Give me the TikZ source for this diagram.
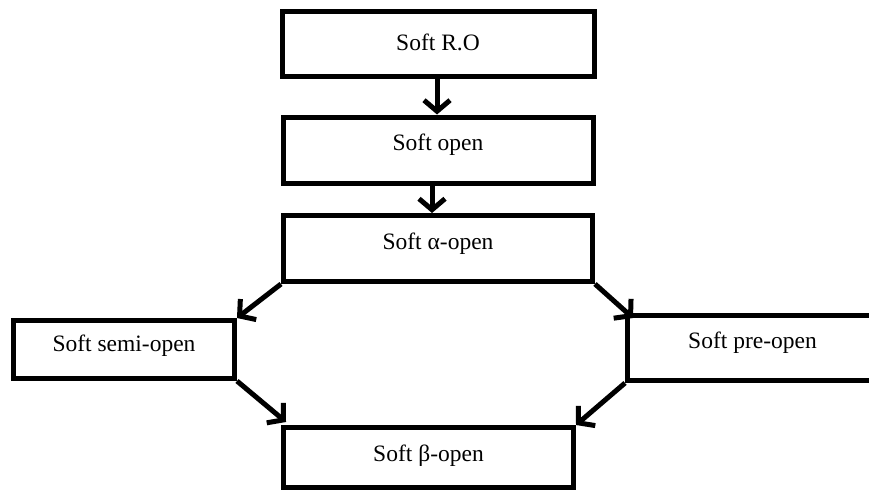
\documentclass[tikz,border=0pt]{standalone}
\usepackage{fontspec}
\setmainfont{Liberation Serif}
\usetikzlibrary{arrows.meta}
\begin{document}
\begin{tikzpicture}[x=1pt,y=-1pt,
  box/.style={draw=black, line width=5pt, rectangle, inner sep=0pt, fill=white},
  lbl/.style={font=\fontsize{23.5}{27}\selectfont, inner sep=0pt},
  conn/.style={line width=5pt, -{Straight Barb[length=11pt,width=26pt,line width=5pt]}}]
\clip (0,0) rectangle (869,491);
\fill[white] (0,0) rectangle (869,491);
\node[box, minimum width=312pt, minimum height=65pt] (ro) at (438,43.5) {};
\node[lbl] at ([yshift=1pt]ro.center) {Soft R.O};
\node[box, minimum width=310pt, minimum height=66pt] (op) at (438,150) {};
\node[lbl] at ([yshift=5pt]op.center) {Soft open};
\node[box, minimum width=309pt, minimum height=66pt] (al) at (438,248.5) {};
\node[lbl] at ([yshift=5pt]al.center) {Soft α-open};
\node[box, minimum width=221pt, minimum height=58pt] (se) at (124,349.5) {};
\node[lbl] at ([yshift=4pt]se.center) {Soft semi-open};
\node[box, minimum width=250pt, minimum height=65pt] (pr) at (752.5,348) {};
\node[lbl] at ([yshift=5pt]pr.center) {Soft pre-open};
\node[box, minimum width=290pt, minimum height=60pt] (be) at (428.5,457.5) {};
\node[lbl] at ([yshift=2pt]be.center) {Soft β-open};
\draw[conn] ([xshift=-1pt]ro.south) -- ([xshift=-1pt]op.north);
\draw[conn] ([xshift=-6pt]op.south) -- ([xshift=-6pt]al.north);
\draw[conn] (al.south west) -- (se.north east);
\draw[conn] (al.south east) -- ([shift={(8pt,-5pt)}]pr.north west);
\draw[conn] (se.south east) -- ([shift={(5pt,3pt)}]be.north west);
\draw[conn] (pr.south west) -- (be.north east);
\end{tikzpicture}
\end{document}
